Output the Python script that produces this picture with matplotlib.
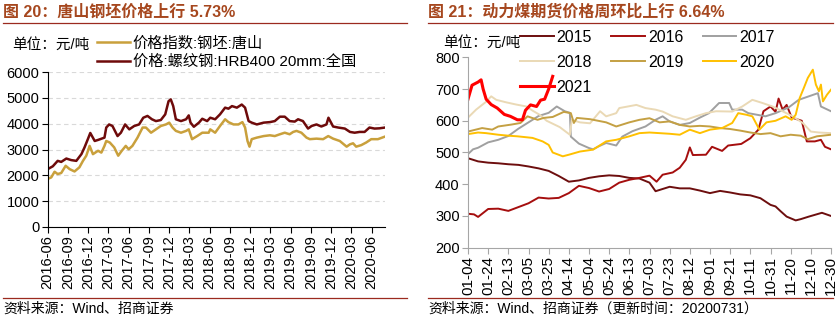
import matplotlib
matplotlib.use('Agg')
import matplotlib.pyplot as plt
import pandas as pd
from matplotlib.lines import Line2D

plt.rcParams['font.family'] = ['Liberation Sans', 'Noto Sans CJK SC']

# ---------------- 图20 data ----------------
rebar_dates = ['2016-06-01', '2016-06-24', '2016-07-16', '2016-08-01', '2016-08-24', '2016-09-15',
               '2016-10-08', '2016-10-31', '2016-11-14', '2016-11-30', '2016-12-10', '2016-12-30',
               '2017-01-14', '2017-02-12', '2017-02-20', '2017-03-05', '2017-03-20', '2017-04-12',
               '2017-04-27', '2017-05-16', '2017-06-04', '2017-06-26', '2017-07-18', '2017-08-06',
               '2017-08-25', '2017-09-14', '2017-10-02', '2017-10-24', '2017-11-13', '2017-11-28',
               '2017-12-08', '2017-12-19', '2017-12-31', '2018-01-23', '2018-02-15', '2018-02-27',
               '2018-03-07', '2018-03-22', '2018-04-14', '2018-04-29', '2018-05-21', '2018-06-04',
               '2018-06-26', '2018-07-18', '2018-08-10', '2018-08-25', '2018-09-10', '2018-10-02',
               '2018-10-24', '2018-11-08', '2018-11-24', '2018-12-08', '2018-12-31', '2019-01-31',
               '2019-02-28', '2019-03-22', '2019-04-14', '2019-05-06', '2019-05-28', '2019-06-20',
               '2019-07-05', '2019-07-27', '2019-08-19', '2019-09-04', '2019-09-26', '2019-10-18',
               '2019-11-10', '2019-11-19', '2019-12-10', '2020-01-02', '2020-02-01', '2020-02-24',
               '2020-03-16', '2020-04-08', '2020-04-30', '2020-05-22', '2020-06-14', '2020-07-06',
               '2020-07-31']
rebar = [2240, 2350, 2560, 2520, 2650, 2590,
         2560, 2820, 3080, 3420, 3640, 3330,
         3370, 3460, 3850, 3970, 3910, 3520,
         3650, 3970, 3780, 3910, 3970, 4230,
         4300, 4170, 4100, 4140, 4360, 4870,
         4940, 4680, 4170, 4100, 4170, 4320,
         4040, 3880, 4040, 4190, 4100, 4230,
         4170, 4360, 4620, 4580, 4680, 4620,
         4740, 4620, 4100, 4040, 3970, 4040,
         4060, 4100, 4270, 4270, 4100, 4080,
         4170, 4100, 3810, 3910, 3970, 3890,
         3970, 4230, 3890, 3850, 3810, 3680,
         3650, 3680, 3680, 3850, 3810, 3820,
         3850]

billet_dates = ['2016-06-01', '2016-06-17', '2016-07-02', '2016-07-16', '2016-08-01', '2016-08-21',
                '2016-09-08', '2016-09-30', '2016-10-22', '2016-11-07', '2016-11-22', '2016-12-07',
                '2016-12-22', '2017-01-14', '2017-01-29', '2017-02-12', '2017-02-20', '2017-03-08',
                '2017-03-28', '2017-04-15', '2017-05-01', '2017-05-19', '2017-06-01', '2017-06-18',
                '2017-07-11', '2017-08-03', '2017-08-18', '2017-09-10', '2017-10-02', '2017-10-24',
                '2017-11-16', '2017-12-01', '2017-12-16', '2017-12-31', '2018-01-23', '2018-02-15',
                '2018-02-27', '2018-03-14', '2018-04-06', '2018-04-29', '2018-05-28', '2018-06-04',
                '2018-06-26', '2018-07-18', '2018-08-10', '2018-08-25', '2018-09-17', '2018-10-09',
                '2018-10-27', '2018-11-08', '2018-11-19', '2018-11-28', '2018-12-08', '2018-12-31',
                '2019-01-31', '2019-02-28', '2019-03-22', '2019-04-14', '2019-05-06', '2019-05-28',
                '2019-06-13', '2019-06-28', '2019-07-20', '2019-08-12', '2019-08-27', '2019-09-26',
                '2019-10-26', '2019-11-18', '2019-12-10', '2020-01-09', '2020-02-09', '2020-02-24',
                '2020-03-09', '2020-03-23', '2020-04-15', '2020-05-07', '2020-05-30', '2020-06-29',
                '2020-07-31']
billet = [1860, 1920, 2140, 2050, 2090, 2370,
          2240, 2150, 2310, 2560, 2760, 3140,
          2820, 2950, 2880, 3140, 3330, 3270,
          3080, 2760, 2950, 3140, 3010, 3140,
          3460, 3850, 3850, 3650, 3780, 3910,
          3970, 4040, 3850, 3720, 3650, 3720,
          3780, 3400, 3520, 3650, 3650, 3780,
          3650, 3910, 4170, 4060, 3970, 3970,
          4060, 3850, 3330, 3110, 3400, 3460,
          3520, 3550, 3520, 3590, 3650, 3590,
          3680, 3720, 3650, 3460, 3400, 3420,
          3400, 3520, 3420, 3330, 3110, 3200,
          3240, 3110, 3170, 3270, 3400, 3400,
          3500]

# ---------------- 图21 data (day of year) ----------------
d2015 = [4, 14, 24, 34, 44, 54, 64, 74, 84, 94, 104, 114, 124, 134, 144, 154, 164, 174, 184, 190,
         204, 214, 224, 234, 244, 254, 264, 274, 284, 294, 304, 309, 314, 320, 329, 334, 342, 355, 364]
c2015 = [482, 472, 468, 466, 463, 461, 456, 450, 442, 426, 408, 412, 420, 425, 428, 426, 420, 418, 405, 378,
         392, 387, 387, 380, 372, 379, 374, 368, 365, 356, 335, 330, 315, 298, 286, 290, 298, 310, 300]

d2016 = [4, 10, 14, 24, 34, 44, 54, 64, 74, 84, 94, 104, 114, 124, 134, 144, 154, 164, 174, 184, 191,
         197, 207, 214, 220, 224, 227, 240, 246, 256, 262, 275, 284, 292, 297, 304, 309, 312, 316, 320,
         325, 335, 340, 348, 354, 358, 364]
c2016 = [307, 305, 297, 322, 323, 316, 328, 340, 358, 355, 357, 372, 395, 388, 377, 385, 405, 414, 420, 427, 408,
         430, 437, 452, 477, 516, 492, 493, 518, 505, 522, 527, 545, 572, 630, 645, 628, 670, 635, 650,
         610, 600, 535, 535, 540, 518, 510]

d2017 = [4, 9, 14, 24, 34, 44, 54, 64, 74, 84, 92, 100, 105, 106, 114, 124, 128, 134, 141, 151, 157,
         167, 180, 190, 197, 204, 214, 224, 234, 243, 253, 263, 266, 276, 282, 299, 309, 322, 332, 342,
         351, 354, 364]
c2017 = [495, 510, 515, 532, 540, 552, 575, 595, 615, 625, 645, 630, 625, 550, 528, 514, 510, 520, 530, 522, 550,
         567, 582, 603, 614, 598, 587, 593, 610, 624, 656, 656, 635, 635, 624, 614, 624, 642, 666, 677,
         687, 645, 630]

d2018 = [4, 12, 22, 27, 32, 42, 52, 62, 68, 75, 82, 95, 105, 107, 115, 125, 135, 141, 151, 154, 171,
         180, 190, 197, 207, 220, 230, 240, 250, 266, 276, 286, 296, 306, 316, 326, 336, 344, 352, 364]
c2018 = [610, 635, 660, 677, 666, 658, 651, 645, 632, 619, 600, 580, 556, 603, 595, 592, 630, 614, 624, 640, 650,
         640, 635, 629, 614, 603, 614, 624, 630, 629, 645, 666, 656, 645, 630, 614, 593, 566, 563, 561]

d2019 = [4, 18, 28, 34, 47, 56, 63, 73, 79, 88, 99, 106, 109, 112, 125, 141, 151, 164, 174, 184, 194,
         204, 214, 224, 234, 244, 254, 264, 274, 284, 294, 304, 314, 324, 334, 341, 350, 364]
c2019 = [566, 577, 572, 582, 588, 593, 614, 603, 609, 612, 628, 624, 593, 609, 605, 595, 582, 595, 603, 608, 595,
         598, 587, 582, 584, 582, 577, 574, 569, 563, 558, 561, 551, 556, 553, 542, 551, 556]

d2020 = [4, 14, 22, 34, 44, 53, 68, 78, 84, 88, 98, 104, 115, 128, 141, 151, 164, 174, 184, 194, 204,
         214, 224, 234, 244, 256, 266, 272, 280, 286, 293, 300, 309, 319, 325, 329, 333, 337, 341, 346,
         349, 352, 354, 356, 360, 364]
c2020 = [558, 563, 561, 556, 553, 551, 546, 535, 524, 500, 488, 493, 503, 509, 535, 540, 551, 561, 563, 561, 559,
         556, 572, 561, 572, 577, 593, 624, 619, 614, 572, 595, 600, 614, 603, 619, 672, 703, 735, 761,
         714, 693, 714, 661, 682, 698]

d2021 = [4, 8, 14, 17, 19, 22, 27, 33, 40, 46, 53, 58, 61, 66, 72, 76, 80, 84, 88]
c2021 = [668, 712, 722, 729, 700, 668, 651, 640, 620, 614, 603, 603, 633, 650, 645, 665, 668, 700, 740]

coal_ticks = list(range(4, 365, 20))

W, H = 836, 321
fig = plt.figure(figsize=(W / 100, H / 100), dpi=100)


def fx(px):
    return px / W


def fy(py):
    return 1 - py / H


title_color = '#A6471E'
rule_color = '#9B2A1F'

# ---------------- left panel ----------------
ax1 = fig.add_axes([fx(47.7), fy(227), (385 - 47.7) / W, (227 - 72) / H])
ax1.plot(pd.to_datetime(billet_dates), billet, color='#C9A03C', lw=1.8, label='价格指数:钢坯:唐山')
ax1.plot(pd.to_datetime(rebar_dates), rebar, color='#6E0A0A', lw=1.8, label='价格:螺纹钢:HRB400 20mm:全国')
ax1.set_ylim(0, 6000)
ax1.set_yticks(range(0, 6001, 1000))
ax1.set_xlim(pd.Timestamp('2016-06-01'), pd.Timestamp('2020-07-31'))
qt = pd.date_range('2016-06-01', '2020-06-01', freq='3MS')
ax1.set_xticks(qt)
ax1.set_xticklabels([d.strftime('%Y-%m') for d in qt], rotation=90)
ax1.yaxis.grid(True, ls=(0, (4, 3)), color='#D9D9D9', lw=0.8)
ax1.set_axisbelow(True)
for s in ['top', 'right']:
    ax1.spines[s].set_visible(False)
ax1.tick_params(axis='both', direction='out', length=4, labelsize=10.5, pad=2)

ax1.legend(loc='upper left', bbox_to_anchor=(fx(97), fy(36)), bbox_transform=fig.transFigure,
           frameon=False, fontsize=11, handlelength=2.15, handletextpad=0.2, labelspacing=0.3,
           borderpad=0, borderaxespad=0)
fig.text(fx(12), fy(45), '单位：元/吨', fontsize=10.5, va='center', ha='left')

# ---------------- right panel ----------------
ax2 = fig.add_axes([fx(468), fy(247.7), (831 - 468) / W, (247.7 - 57.3) / H])
series = [
    (d2015, c2015, '2015', '#6D0E0E', 1.4),
    (d2016, c2016, '2016', '#A50E0E', 1.4),
    (d2017, c2017, '2017', '#A0A0A0', 1.4),
    (d2018, c2018, '2018', '#EAD9B5', 1.4),
    (d2019, c2019, '2019', '#C4A043', 1.4),
    (d2020, c2020, '2020', '#FFC000', 1.4),
    (d2021, c2021, '2021', '#FF0000', 2.2),
]
lines = {}
for d, c, lab, col, lw in series:
    lines[lab], = ax2.plot(d, c, color=col, lw=lw, label=lab)
ax2.set_xlim(4, 364)
ax2.set_ylim(200, 800)
ax2.set_yticks(range(200, 801, 100))
ax2.set_xticks(coal_ticks)
base = pd.Timestamp('2019-01-01')
ax2.set_xticklabels([(base + pd.Timedelta(days=d - 1)).strftime('%m-%d') for d in coal_ticks], rotation=90)
for s in ['top', 'right']:
    ax2.spines[s].set_visible(False)
for s in ['left', 'bottom']:
    ax2.spines[s].set_color('#A6A6A6')
ax2.tick_params(axis='both', direction='out', length=4, color='#A6A6A6', labelsize=10.5, pad=2)
ax2.tick_params(axis='x', labelsize=11)

order = ['2015', '2018', '2021', '2016', '2019', '2017', '2020']
ax2.legend([lines[k] for k in order], order, ncol=3, loc='upper left',
           bbox_to_anchor=(fx(520), fy(30)), bbox_transform=fig.transFigure,
           frameon=False, fontsize=11.5, handlelength=2.1, handletextpad=0.2,
           columnspacing=1.2, labelspacing=0.62, borderpad=0, borderaxespad=0)
fig.text(fx(443), fy(43), '单位：元/吨', fontsize=10.5, va='center', ha='left')

# ---------------- titles, rules, sources ----------------
fig.text(fx(3), fy(12), '图 20：唐山钢坯价格上行 5.73%', fontsize=11.5, fontweight='bold',
         color=title_color, va='center', ha='left')
fig.text(fx(428), fy(12), '图 21：动力煤期货价格周环比上行 6.64%', fontsize=11.5, fontweight='bold',
         color=title_color, va='center', ha='left')
for x0, x1 in [(3, 407), (428, 833)]:
    for yy in (23, 298):
        fig.add_artist(Line2D([fx(x0), fx(x1)], [fy(yy), fy(yy)], transform=fig.transFigure,
                              color=rule_color, lw=0.9))
fig.text(fx(3), fy(309), '资料来源：Wind、招商证券', fontsize=10, va='center', ha='left')
fig.text(fx(428), fy(309), '资料来源：Wind、招商证券（更新时间：20200731）', fontsize=10,
         va='center', ha='left')

fig.savefig('out.png', dpi=100)
